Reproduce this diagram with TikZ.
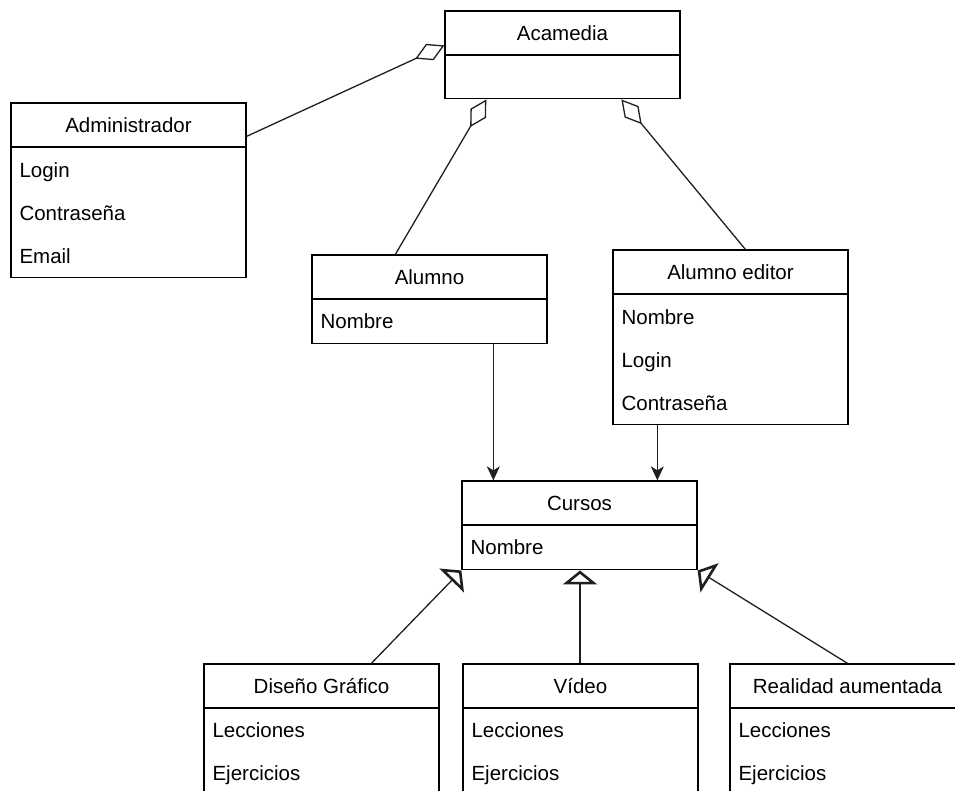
\documentclass[tikz,border=0pt]{standalone}
\usepackage{fontspec}
\setmainfont{Liberation Sans}
\usetikzlibrary{arrows.meta,calc}
\begin{document}
\begin{tikzpicture}[x=1pt,y=-1pt,
  txt/.style={font=\fontsize{20.5}{24}\selectfont, text height=14.6pt, text depth=0pt},
  hdr/.style={txt, draw=black, line width=1.3pt, minimum width=235pt, minimum height=43.5pt, inner sep=0pt},
  bodybox/.style={draw=black, line width=1.3pt, minimum width=235pt, anchor=north, inner sep=0pt},
  attr/.style={txt, anchor=west, inner sep=0pt},
  conn/.style={line width=1.3pt, draw=black!88},
  agg/.style={conn, -{Diamond[open, length=32pt, width=18pt, line width=1.3pt]}},
  nav/.style={conn, -{Stealth[length=14pt, width=13pt, inset=4pt]}},
  gen/.style={conn, -{Triangle[open, length=14pt, width=34pt, line width=2.6pt]}},
]
\useasboundingbox (0,0) rectangle (955,790);
\clip (0,0) rectangle (955,790);

% Acamedia
\node[hdr] (acam) at (562.5,32.75) {Acamedia};
\node[bodybox, minimum height=43pt] (acamB) at (acam.south) {};

% Administrador
\node[hdr] (adm) at (128.5,124.75) {Administrador};
\node[bodybox, minimum height=130pt] (admB) at (adm.south) {};
\node[attr] (adm1) at ($(admB.north west)+(9,22.8)$) {Login};
\node[attr] (adm2) at ($(admB.north west)+(9,65.8)$) {Contraseña};
\node[attr] (adm3) at ($(admB.north west)+(9,108.8)$) {Email};

% Alumno
\node[hdr] (alu) at (429.5,276.75) {Alumno};
\node[bodybox, minimum height=44pt] (aluB) at (alu.south) {};
\node[attr] (alu1) at ($(aluB.north west)+(9,22.5)$) {Nombre};

% Alumno editor
\node[hdr] (ale) at (730.5,271.75) {Alumno editor};
\node[bodybox, minimum height=130pt] (aleB) at (ale.south) {};
\node[attr] (ale1) at ($(aleB.north west)+(9,22.8)$) {Nombre};
\node[attr] (ale2) at ($(aleB.north west)+(9,65.8)$) {Login};
\node[attr] (ale3) at ($(aleB.north west)+(9,108.8)$) {Contraseña};

% Cursos
\node[hdr] (cur) at (579.5,502.75) {Cursos};
\node[bodybox, minimum height=44pt] (curB) at (cur.south) {};
\node[attr] (cur1) at ($(curB.north west)+(9,22.5)$) {Nombre};

% Diseño Gráfico
\node[hdr] (dis) at (321.5,685.75) {Diseño Gráfico};
\node[bodybox, minimum height=130pt] (disB) at (dis.south) {};
\node[attr] (dis1) at ($(disB.north west)+(9,22.3)$) {Lecciones};
\node[attr] (dis2) at ($(disB.north west)+(9,65.3)$) {Ejercicios};

% Vídeo
\node[hdr] (vid) at (580.5,685.75) {Vídeo};
\node[bodybox, minimum height=130pt] (vidB) at (vid.south) {};
\node[attr] (vid1) at ($(vidB.north west)+(9,22.3)$) {Lecciones};
\node[attr] (vid2) at ($(vidB.north west)+(9,65.3)$) {Ejercicios};

% Realidad aumentada
\node[hdr] (rea) at (847.5,685.75) {Realidad aumentada};
\node[bodybox, minimum height=130pt] (reaB) at (rea.south) {};
\node[attr] (rea1) at ($(reaB.north west)+(9,22.3)$) {Lecciones};
\node[attr] (rea2) at ($(reaB.north west)+(9,65.3)$) {Ejercicios};

% aggregations
\draw[agg] ($(adm.north east)+(0,34)$) -- ($(acam.north west)+(0,35)$);
\draw[agg] ($(alu.north west)+(84,0)$) -- ($(acamB.south west)+(42,0)$);
\draw[agg] ($(ale.north west)+(133,0)$) -- ($(acamB.south west)+(177,0)$);

% navigable associations
\draw[nav] ($(aluB.south west)+(182,0)$) -- ($(cur.north west)+(32,0)$);
\draw[nav] ($(aleB.south west)+(45,0)$) -- ($(cur.north west)+(196,0)$);

% generalizations
\draw[gen] ($(dis.north west)+(168,0)$) -- (curB.south west);
\draw[gen] ($(vid.north)+(-0.5,0)$) -- ($(curB.south)+(0.5,0)$);
\draw[gen] (rea.north) -- (curB.south east);
\end{tikzpicture}
\end{document}
